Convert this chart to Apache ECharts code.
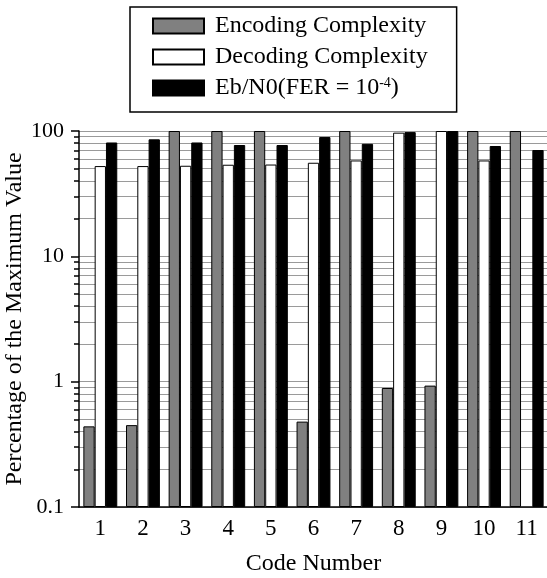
<!DOCTYPE html>
<html>
<head>
<meta charset="utf-8">
<script src="https://cdn.jsdelivr.net/npm/echarts@6/dist/echarts.min.js"></script>
<style>
    html, body { margin: 0; padding: 0; background: #fff; }
    #main { width: 547px; height: 578px; }
</style>
</head>
<body>
<div id="main"></div>
<script>
    var codes = ['1', '2', '3', '4', '5', '6', '7', '8', '9', '10', '11'];
    var encoding = [0.44, 0.45, 100, 100, 100, 0.48, 100, 0.89, 0.93, 100, 100];
    var decoding = [52.5, 52.5, 52.8, 53.8, 54, 55.8, 58.2, 97, 100, 58.2, null];
    var ebn0 = [81, 85.8, 81, 77.3, 77.3, 89.5, 79, 98, 100, 75.9, 70.5];
    var majorTicks = [0.1, 1, 10, 100];
    var minorTicks = [0.2, 0.3, 0.4, 0.5, 0.6, 0.7, 0.8, 0.9,
        2, 3, 4, 5, 6, 7, 8, 9,
        20, 30, 40, 50, 60, 70, 80, 90];

    var font = 'Liberation Serif';
    var gridColor = '#9a9a9a';

    var chart = echarts.init(document.getElementById('main'));
    var option = {
        animation: false,
        textStyle: { fontFamily: font, color: '#000' },
        legend: {
            orient: 'vertical',
            left: 130,
            top: 7,
            padding: [7, 29, 12, 22],
            icon: 'rect',
            itemWidth: 51,
            itemHeight: 15,
            itemGap: 7,
            borderColor: '#000',
            borderWidth: 1.5,
            textStyle: {
                fontFamily: font,
                fontSize: 24,
                color: '#000',
                lineHeight: 24,
                padding: [0, 0, 0, 6],
                rich: {
                    sup: { fontFamily: font, fontSize: 14, lineHeight: 14, verticalAlign: 'top', color: '#000' }
                }
            },
            formatter: function (name) {
                if (name.indexOf('Eb/N0') === 0) {
                    return 'Eb/N0(FER = 10{sup|-4})';
                }
                return name;
            }
        },
        grid: {
            left: 79,
            top: 131,
            bottom: 71,
            width: 469,
            outerBoundsMode: 'none',
            containLabel: false
        },
        xAxis: {
            type: 'category',
            data: codes,
            name: 'Code Number',
            nameLocation: 'middle',
            nameGap: 45,
            nameMoveOverlap: false,
            nameTextStyle: { fontFamily: font, fontSize: 24, color: '#000' },
            axisLine: { lineStyle: { color: '#000', width: 1.5 } },
            axisTick: { alignWithLabel: true, length: 7, lineStyle: { color: '#000', width: 1.5 } },
            axisLabel: { fontFamily: font, fontSize: 23, color: '#000', margin: 10 }
        },
        yAxis: [
            {
                type: 'log',
                logBase: 10,
                min: 0.1,
                max: 100,
                startValue: 0.1,
                name: 'Percentage of the Maximum Value',
                nameLocation: 'middle',
                nameGap: 52,
                nameMoveOverlap: false,
                nameTextStyle: { fontFamily: font, fontSize: 24, color: '#000' },
                axisLine: { show: true, lineStyle: { color: '#000', width: 1.5 } },
                axisTick: { show: true, length: 8, customValues: majorTicks, lineStyle: { color: '#000', width: 1.5 } },
                axisLabel: {
                    fontFamily: font, fontSize: 22, color: '#000', margin: 15,
                    customValues: majorTicks,
                    formatter: function (v) { return String(v); }
                },
                splitLine: { show: true, lineStyle: { color: gridColor, width: 1 } }
            },
            {
                type: 'log',
                logBase: 10,
                min: 0.1,
                max: 100,
                position: 'left',
                axisLine: { show: false },
                axisTick: { show: true, length: 5, customValues: minorTicks, lineStyle: { color: '#000', width: 1.5 } },
                axisLabel: { show: false },
                splitLine: { show: true, lineStyle: { color: gridColor, width: 1 } }
            }
        ],
        series: [
            {
                name: 'Encoding Complexity',
                type: 'bar',
                data: encoding,
                barWidth: 11.3,
                barGap: '0%',
                itemStyle: { color: '#808080', borderColor: '#000', borderWidth: 1 }
            },
            {
                name: 'Decoding Complexity',
                type: 'bar',
                data: decoding,
                barWidth: 11.3,
                barGap: '0%',
                itemStyle: { color: '#fff', borderColor: '#000', borderWidth: 1 }
            },
            {
                name: 'Eb/N0(FER = 10^-4)',
                type: 'bar',
                data: ebn0,
                barWidth: 11.3,
                barGap: '0%',
                itemStyle: { color: '#000', borderColor: '#000', borderWidth: 1 }
            }
        ]
    };
    chart.setOption(option);
</script>
</body>
</html>
